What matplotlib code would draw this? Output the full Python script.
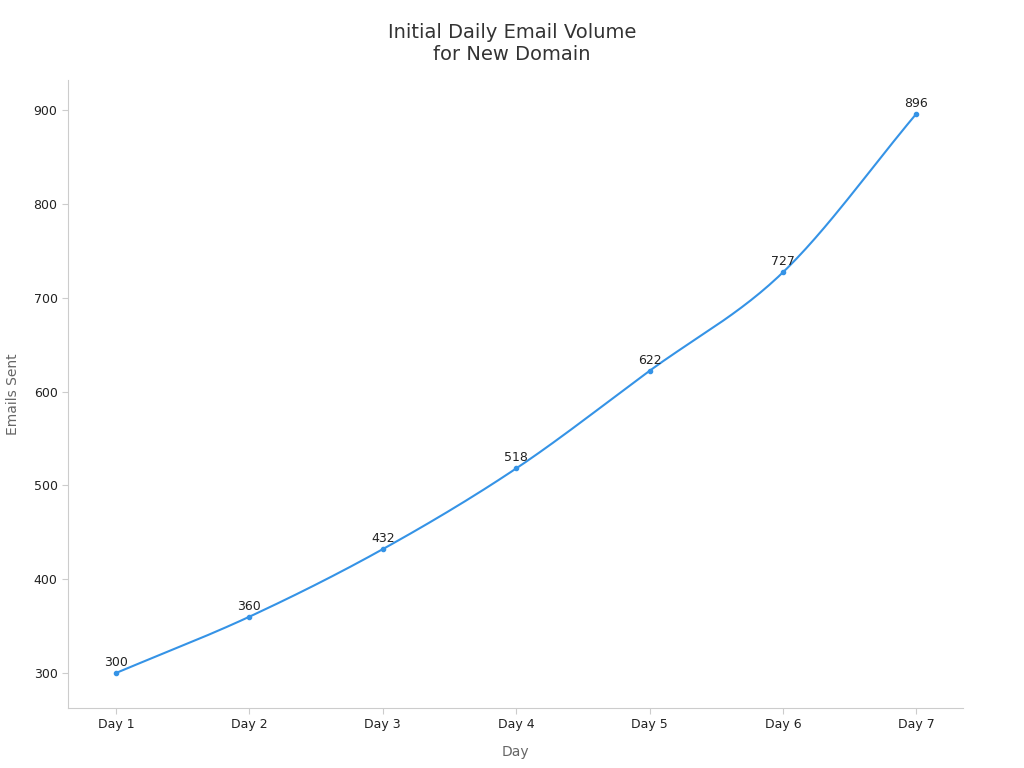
import numpy as np
import matplotlib
matplotlib.use("Agg")
import matplotlib.pyplot as plt

days = ["Day 1", "Day 2", "Day 3", "Day 4", "Day 5", "Day 6", "Day 7"]
emails = [300, 360, 432, 518, 622, 727, 896]

fig = plt.figure(figsize=(10.24, 7.68), dpi=100)
ax = fig.add_axes([68/1024, 1-708/768, (963-68)/1024, (708-80)/768])
x = np.arange(len(days))
y = np.array(emails, dtype=float)

# Catmull-Rom smoothing for the drawn line only
xs, ys = [], []
P = np.column_stack([x, y])
P = np.vstack([2*P[0]-P[1], P, 2*P[-1]-P[-2]])
for i in range(1, len(P)-2):
    p0, p1, p2, p3 = P[i-1], P[i], P[i+1], P[i+2]
    t = np.linspace(0, 1, 30)[:, None]
    c = 0.5*((2*p1) + (-p0+p2)*t + (2*p0-5*p1+4*p2-p3)*t**2 + (-p0+3*p1-3*p2+p3)*t**3)
    xs.extend(c[:, 0]); ys.extend(c[:, 1])
color = "#3593e6"
ax.plot(xs, ys, color=color, lw=1.5)
ax.plot(x, y, "o", color=color, ms=3)
for xi, yi in zip(x, emails):
    ax.annotate(str(yi), (xi, yi), xytext=(0, 3), textcoords="offset points",
                ha="center", va="bottom", fontsize=9, color="#222222")

ax.set_xticks(x)
ax.set_xticklabels(days)
ax.set_yticks([300, 400, 500, 600, 700, 800, 900])
ax.set_xlim(-0.36, 6.35)
ax.set_ylim(262.7, 932)
for s in ["top", "right"]:
    ax.spines[s].set_visible(False)
for s in ["left", "bottom"]:
    ax.spines[s].set_color("#cccccc")
ax.tick_params(colors="#222222", labelsize=9)
ax.tick_params(axis="x", length=4, color="#cccccc")
ax.tick_params(axis="y", length=4, color="#cccccc")
ax.set_xlabel("Day", fontsize=10, color="#666666", labelpad=10)
ax.set_ylabel("Emails Sent", fontsize=10, color="#666666", labelpad=10)
fig.suptitle("Initial Daily Email Volume\nfor New Domain", y=0.97, fontsize=14, color="#333333")
fig.savefig("out.png", dpi=100)
